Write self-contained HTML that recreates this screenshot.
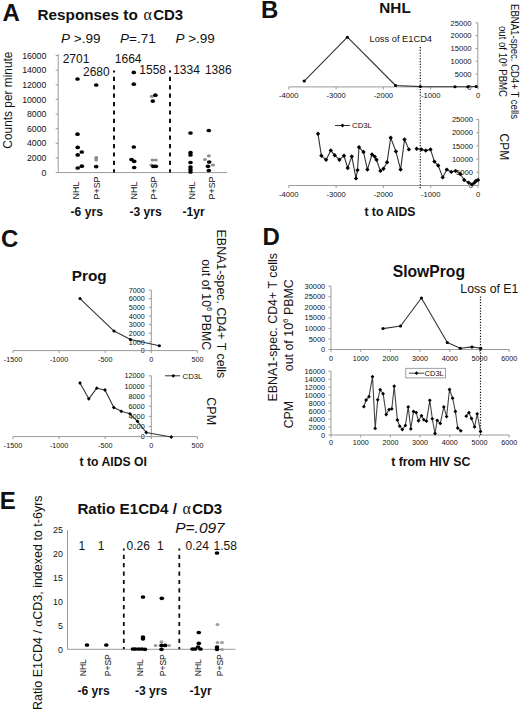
<!DOCTYPE html>
<html><head><meta charset="utf-8"><style>
html,body{margin:0;padding:0;background:#fff;}
body{width:520px;height:711px;overflow:hidden;}
svg{display:block;font-family:"Liberation Sans", sans-serif;}
</style></head><body>
<svg width="520" height="711" viewBox="0 0 520 711" fill="#111">
<rect width="520" height="711" fill="#fff"/>
<text x="2.40" y="20.60" font-size="24" font-weight="bold">A</text>
<text x="37.50" y="20.40" font-size="15.3" font-weight="bold">Responses to </text>
<text x="143.4" y="20.4" font-size="16" font-family="Liberation Serif, serif">α</text>
<text x="153.20" y="20.40" font-size="15" font-weight="bold">CD3</text>
<text x="61" y="42.5" font-size="13.5"><tspan font-style="italic">P</tspan> &gt;.99</text>
<text x="120" y="42.5" font-size="13.5"><tspan font-style="italic">P</tspan>=.71</text>
<text x="175.4" y="42.5" font-size="13.5"><tspan font-style="italic">P</tspan> &gt;.99</text>
<line x1="58.20" y1="54.10" x2="58.20" y2="172.60" stroke="#9a9a9a" stroke-width="1"/>
<line x1="55.70" y1="172.60" x2="58.20" y2="172.60" stroke="#9a9a9a" stroke-width="1"/>
<text x="46.30" y="175.70" font-size="8.7" text-anchor="end">0</text>
<line x1="55.70" y1="157.97" x2="58.20" y2="157.97" stroke="#9a9a9a" stroke-width="1"/>
<text x="46.30" y="161.07" font-size="8.7" text-anchor="end">2000</text>
<line x1="55.70" y1="143.35" x2="58.20" y2="143.35" stroke="#9a9a9a" stroke-width="1"/>
<text x="46.30" y="146.45" font-size="8.7" text-anchor="end">4000</text>
<line x1="55.70" y1="128.72" x2="58.20" y2="128.72" stroke="#9a9a9a" stroke-width="1"/>
<text x="46.30" y="131.82" font-size="8.7" text-anchor="end">6000</text>
<line x1="55.70" y1="114.10" x2="58.20" y2="114.10" stroke="#9a9a9a" stroke-width="1"/>
<text x="46.30" y="117.20" font-size="8.7" text-anchor="end">8000</text>
<line x1="55.70" y1="99.47" x2="58.20" y2="99.47" stroke="#9a9a9a" stroke-width="1"/>
<text x="46.30" y="102.57" font-size="8.7" text-anchor="end">10000</text>
<line x1="55.70" y1="84.85" x2="58.20" y2="84.85" stroke="#9a9a9a" stroke-width="1"/>
<text x="46.30" y="87.95" font-size="8.7" text-anchor="end">12000</text>
<line x1="55.70" y1="70.22" x2="58.20" y2="70.22" stroke="#9a9a9a" stroke-width="1"/>
<text x="46.30" y="73.32" font-size="8.7" text-anchor="end">14000</text>
<line x1="55.70" y1="55.60" x2="58.20" y2="55.60" stroke="#9a9a9a" stroke-width="1"/>
<text x="46.30" y="58.70" font-size="8.7" text-anchor="end">16000</text>
<line x1="58.20" y1="172.60" x2="227.00" y2="172.60" stroke="#9a9a9a" stroke-width="1"/>
<text transform="translate(12.10,100.10) rotate(-90)" font-size="11.9" text-anchor="middle">Counts per minute</text>
<line x1="114.00" y1="70.60" x2="114.00" y2="172.60" stroke="#111" stroke-width="2" stroke-dasharray="4.2 4.2" stroke-dashoffset="2.2"/>
<line x1="170.00" y1="70.60" x2="170.00" y2="172.60" stroke="#111" stroke-width="2" stroke-dasharray="4.2 4.2" stroke-dashoffset="2.2"/>
<text x="62.70" y="62.90" font-size="12">2701</text>
<text x="83.00" y="76.30" font-size="12">2680</text>
<text x="114.80" y="62.70" font-size="12">1664</text>
<text x="139.30" y="73.50" font-size="12">1558</text>
<text x="173.20" y="73.50" font-size="12">1334</text>
<text x="204.90" y="73.50" font-size="12">1386</text>
<text transform="translate(78.50,199.40) rotate(-90)" font-size="8.9">NHL</text>
<text transform="translate(100.40,199.40) rotate(-90)" font-size="8.9">P+SP</text>
<text transform="translate(136.60,199.40) rotate(-90)" font-size="8.9">NHL</text>
<text transform="translate(156.60,199.40) rotate(-90)" font-size="8.9">P+SP</text>
<text transform="translate(194.60,199.40) rotate(-90)" font-size="8.9">NHL</text>
<text transform="translate(215.00,199.40) rotate(-90)" font-size="8.9">P+SP</text>
<text x="70.60" y="216.40" font-size="12.1" font-weight="bold">-6 yrs</text>
<text x="129.50" y="216.40" font-size="12.1" font-weight="bold">-3 yrs</text>
<text x="182.50" y="216.40" font-size="12.1" font-weight="bold">-1yr</text>
<ellipse cx="96.20" cy="157.70" rx="2.0" ry="1.6" fill="#8c8c8c"/>
<ellipse cx="96.20" cy="160.00" rx="2.0" ry="1.6" fill="#8c8c8c"/>
<ellipse cx="151.80" cy="96.30" rx="2.0" ry="1.6" fill="#8c8c8c"/>
<ellipse cx="152.50" cy="160.00" rx="2.0" ry="1.6" fill="#8c8c8c"/>
<ellipse cx="155.80" cy="160.00" rx="2.0" ry="1.6" fill="#8c8c8c"/>
<ellipse cx="151.30" cy="165.00" rx="2.0" ry="1.6" fill="#8c8c8c"/>
<ellipse cx="205.00" cy="159.50" rx="2.0" ry="1.6" fill="#8c8c8c"/>
<ellipse cx="208.80" cy="155.80" rx="2.0" ry="1.6" fill="#8c8c8c"/>
<ellipse cx="213.00" cy="165.00" rx="2.0" ry="1.6" fill="#8c8c8c"/>
<ellipse cx="77.50" cy="79.00" rx="2.3" ry="1.85" fill="#000"/>
<ellipse cx="77.50" cy="134.20" rx="2.3" ry="1.85" fill="#000"/>
<ellipse cx="77.70" cy="147.40" rx="2.3" ry="1.85" fill="#000"/>
<ellipse cx="81.80" cy="152.00" rx="2.3" ry="1.85" fill="#000"/>
<ellipse cx="77.70" cy="154.90" rx="2.3" ry="1.85" fill="#000"/>
<ellipse cx="81.80" cy="166.20" rx="2.3" ry="1.85" fill="#000"/>
<ellipse cx="77.70" cy="168.00" rx="2.3" ry="1.85" fill="#000"/>
<ellipse cx="96.20" cy="85.00" rx="2.3" ry="1.85" fill="#000"/>
<ellipse cx="96.20" cy="166.60" rx="2.3" ry="1.85" fill="#000"/>
<ellipse cx="133.80" cy="72.40" rx="2.3" ry="1.85" fill="#000"/>
<ellipse cx="133.80" cy="84.20" rx="2.3" ry="1.85" fill="#000"/>
<ellipse cx="133.80" cy="147.00" rx="2.3" ry="1.85" fill="#000"/>
<ellipse cx="131.50" cy="159.50" rx="2.3" ry="1.85" fill="#000"/>
<ellipse cx="134.20" cy="161.30" rx="2.3" ry="1.85" fill="#000"/>
<ellipse cx="134.20" cy="167.50" rx="2.3" ry="1.85" fill="#000"/>
<ellipse cx="155.40" cy="95.20" rx="2.3" ry="1.85" fill="#000"/>
<ellipse cx="152.80" cy="101.10" rx="2.3" ry="1.85" fill="#000"/>
<ellipse cx="153.30" cy="166.30" rx="2.3" ry="1.85" fill="#000"/>
<ellipse cx="155.80" cy="166.30" rx="2.3" ry="1.85" fill="#000"/>
<ellipse cx="190.50" cy="133.00" rx="2.3" ry="1.85" fill="#000"/>
<ellipse cx="190.50" cy="152.50" rx="2.3" ry="1.85" fill="#000"/>
<ellipse cx="190.50" cy="155.00" rx="2.3" ry="1.85" fill="#000"/>
<ellipse cx="190.50" cy="162.50" rx="2.3" ry="1.85" fill="#000"/>
<ellipse cx="190.50" cy="167.00" rx="2.3" ry="1.85" fill="#000"/>
<ellipse cx="190.50" cy="169.50" rx="2.3" ry="1.85" fill="#000"/>
<ellipse cx="190.50" cy="172.00" rx="2.3" ry="1.85" fill="#000"/>
<ellipse cx="208.80" cy="130.50" rx="2.3" ry="1.85" fill="#000"/>
<ellipse cx="209.20" cy="162.00" rx="2.3" ry="1.85" fill="#000"/>
<ellipse cx="208.00" cy="166.30" rx="2.3" ry="1.85" fill="#000"/>
<ellipse cx="208.80" cy="170.50" rx="2.3" ry="1.85" fill="#000"/>
<text x="261.00" y="18.30" font-size="24" font-weight="bold">B</text>
<text x="379.30" y="12.80" font-size="15.3" font-weight="bold">NHL</text>
<line x1="477.80" y1="22.80" x2="477.80" y2="86.90" stroke="#9a9a9a" stroke-width="1"/>
<line x1="475.50" y1="86.90" x2="478.00" y2="86.90" stroke="#9a9a9a" stroke-width="1"/>
<text x="471.60" y="89.60" font-size="7.6" text-anchor="end">0</text>
<line x1="475.50" y1="74.08" x2="478.00" y2="74.08" stroke="#9a9a9a" stroke-width="1"/>
<text x="471.60" y="76.78" font-size="7.6" text-anchor="end">5000</text>
<line x1="475.50" y1="61.26" x2="478.00" y2="61.26" stroke="#9a9a9a" stroke-width="1"/>
<text x="471.60" y="63.96" font-size="7.6" text-anchor="end">10000</text>
<line x1="475.50" y1="48.44" x2="478.00" y2="48.44" stroke="#9a9a9a" stroke-width="1"/>
<text x="471.60" y="51.14" font-size="7.6" text-anchor="end">15000</text>
<line x1="475.50" y1="35.62" x2="478.00" y2="35.62" stroke="#9a9a9a" stroke-width="1"/>
<text x="471.60" y="38.32" font-size="7.6" text-anchor="end">20000</text>
<line x1="475.50" y1="22.80" x2="478.00" y2="22.80" stroke="#9a9a9a" stroke-width="1"/>
<text x="471.60" y="25.50" font-size="7.6" text-anchor="end">25000</text>
<line x1="288.80" y1="86.90" x2="478.00" y2="86.90" stroke="#9a9a9a" stroke-width="1"/>
<line x1="288.80" y1="86.90" x2="288.80" y2="89.40" stroke="#9a9a9a" stroke-width="1"/>
<text x="288.80" y="98.10" font-size="7.6" text-anchor="middle">-4000</text>
<line x1="336.10" y1="86.90" x2="336.10" y2="89.40" stroke="#9a9a9a" stroke-width="1"/>
<text x="336.10" y="98.10" font-size="7.6" text-anchor="middle">-3000</text>
<line x1="383.40" y1="86.90" x2="383.40" y2="89.40" stroke="#9a9a9a" stroke-width="1"/>
<text x="383.40" y="98.10" font-size="7.6" text-anchor="middle">-2000</text>
<line x1="430.70" y1="86.90" x2="430.70" y2="89.40" stroke="#9a9a9a" stroke-width="1"/>
<text x="430.70" y="98.10" font-size="7.6" text-anchor="middle">-1000</text>
<line x1="478.00" y1="86.90" x2="478.00" y2="89.40" stroke="#9a9a9a" stroke-width="1"/>
<text x="478.00" y="98.10" font-size="7.6" text-anchor="middle">0</text>
<line x1="478.70" y1="119.50" x2="478.70" y2="185.50" stroke="#9a9a9a" stroke-width="1"/>
<line x1="476.20" y1="185.50" x2="478.70" y2="185.50" stroke="#9a9a9a" stroke-width="1"/>
<text x="473.00" y="188.20" font-size="7.6" text-anchor="end">0</text>
<line x1="476.20" y1="172.30" x2="478.70" y2="172.30" stroke="#9a9a9a" stroke-width="1"/>
<text x="473.00" y="175.00" font-size="7.6" text-anchor="end">5000</text>
<line x1="476.20" y1="159.10" x2="478.70" y2="159.10" stroke="#9a9a9a" stroke-width="1"/>
<text x="473.00" y="161.80" font-size="7.6" text-anchor="end">10000</text>
<line x1="476.20" y1="145.90" x2="478.70" y2="145.90" stroke="#9a9a9a" stroke-width="1"/>
<text x="473.00" y="148.60" font-size="7.6" text-anchor="end">15000</text>
<line x1="476.20" y1="132.70" x2="478.70" y2="132.70" stroke="#9a9a9a" stroke-width="1"/>
<text x="473.00" y="135.40" font-size="7.6" text-anchor="end">20000</text>
<line x1="476.20" y1="119.50" x2="478.70" y2="119.50" stroke="#9a9a9a" stroke-width="1"/>
<text x="473.00" y="122.20" font-size="7.6" text-anchor="end">25000</text>
<line x1="288.80" y1="185.50" x2="478.70" y2="185.50" stroke="#9a9a9a" stroke-width="1"/>
<line x1="288.80" y1="185.50" x2="288.80" y2="188.00" stroke="#9a9a9a" stroke-width="1"/>
<text x="288.80" y="196.70" font-size="7.6" text-anchor="middle">-4000</text>
<line x1="336.10" y1="185.50" x2="336.10" y2="188.00" stroke="#9a9a9a" stroke-width="1"/>
<text x="336.10" y="196.70" font-size="7.6" text-anchor="middle">-3000</text>
<line x1="383.40" y1="185.50" x2="383.40" y2="188.00" stroke="#9a9a9a" stroke-width="1"/>
<text x="383.40" y="196.70" font-size="7.6" text-anchor="middle">-2000</text>
<line x1="430.70" y1="185.50" x2="430.70" y2="188.00" stroke="#9a9a9a" stroke-width="1"/>
<text x="430.70" y="196.70" font-size="7.6" text-anchor="middle">-1000</text>
<line x1="478.00" y1="185.50" x2="478.00" y2="188.00" stroke="#9a9a9a" stroke-width="1"/>
<text x="478.00" y="196.70" font-size="7.6" text-anchor="middle">0</text>
<line x1="420.30" y1="47.00" x2="420.30" y2="188.50" stroke="#111" stroke-width="1.2" stroke-dasharray="1.2 1.6"/>
<text x="369.50" y="42.20" font-size="9.3">Loss of E1CD4</text>
<polyline points="304.20,81.10 347.40,37.20 395.60,85.50 420.40,86.60 455.00,86.70 467.90,86.70 476.20,86.50" fill="none" stroke="#333" stroke-width="1.1" stroke-linejoin="round"/>
<ellipse cx="304.20" cy="81.10" rx="1.6" ry="1.5" fill="#000"/>
<ellipse cx="347.40" cy="37.20" rx="1.6" ry="1.5" fill="#000"/>
<ellipse cx="395.60" cy="85.50" rx="1.6" ry="1.5" fill="#000"/>
<ellipse cx="420.40" cy="86.60" rx="1.6" ry="1.5" fill="#000"/>
<ellipse cx="455.00" cy="86.70" rx="1.6" ry="1.5" fill="#000"/>
<ellipse cx="467.90" cy="86.70" rx="1.6" ry="1.5" fill="#000"/>
<ellipse cx="476.20" cy="86.50" rx="1.6" ry="1.5" fill="#000"/>
<polyline points="318.00,133.80 321.40,155.80 326.10,159.70 330.80,150.40 334.70,155.30 339.40,159.70 344.00,155.80 347.70,168.00 351.80,156.40 356.00,178.40 357.50,170.10 359.00,147.30 363.50,152.00 367.40,169.60 372.00,154.50 374.70,156.60 376.50,159.70 380.40,170.90 383.50,168.80 387.10,162.30 390.70,137.70 395.90,151.40 400.60,169.60 404.50,139.50 408.90,149.40" fill="none" stroke="#333" stroke-width="1.1" stroke-linejoin="round"/>
<polyline points="416.70,148.80 421.40,149.40 425.80,150.60 430.50,149.40 434.40,161.60 438.20,165.50 442.70,177.40 446.80,169.60 451.20,171.90 455.60,170.90 460.30,174.00 464.20,180.00 468.60,182.60 472.00,184.40 474.60,182.60 475.90,181.00 478.00,180.00" fill="none" stroke="#333" stroke-width="1.1" stroke-linejoin="round"/>
<path d="M318.00 131.60L320.20 133.80L318.00 136.00L315.80 133.80Z" fill="#000"/>
<path d="M321.40 153.60L323.60 155.80L321.40 158.00L319.20 155.80Z" fill="#000"/>
<path d="M326.10 157.50L328.30 159.70L326.10 161.90L323.90 159.70Z" fill="#000"/>
<path d="M330.80 148.20L333.00 150.40L330.80 152.60L328.60 150.40Z" fill="#000"/>
<path d="M334.70 153.10L336.90 155.30L334.70 157.50L332.50 155.30Z" fill="#000"/>
<path d="M339.40 157.50L341.60 159.70L339.40 161.90L337.20 159.70Z" fill="#000"/>
<path d="M344.00 153.60L346.20 155.80L344.00 158.00L341.80 155.80Z" fill="#000"/>
<path d="M347.70 165.80L349.90 168.00L347.70 170.20L345.50 168.00Z" fill="#000"/>
<path d="M351.80 154.20L354.00 156.40L351.80 158.60L349.60 156.40Z" fill="#000"/>
<path d="M356.00 176.20L358.20 178.40L356.00 180.60L353.80 178.40Z" fill="#000"/>
<path d="M357.50 167.90L359.70 170.10L357.50 172.30L355.30 170.10Z" fill="#000"/>
<path d="M359.00 145.10L361.20 147.30L359.00 149.50L356.80 147.30Z" fill="#000"/>
<path d="M363.50 149.80L365.70 152.00L363.50 154.20L361.30 152.00Z" fill="#000"/>
<path d="M367.40 167.40L369.60 169.60L367.40 171.80L365.20 169.60Z" fill="#000"/>
<path d="M372.00 152.30L374.20 154.50L372.00 156.70L369.80 154.50Z" fill="#000"/>
<path d="M374.70 154.40L376.90 156.60L374.70 158.80L372.50 156.60Z" fill="#000"/>
<path d="M376.50 157.50L378.70 159.70L376.50 161.90L374.30 159.70Z" fill="#000"/>
<path d="M380.40 168.70L382.60 170.90L380.40 173.10L378.20 170.90Z" fill="#000"/>
<path d="M383.50 166.60L385.70 168.80L383.50 171.00L381.30 168.80Z" fill="#000"/>
<path d="M387.10 160.10L389.30 162.30L387.10 164.50L384.90 162.30Z" fill="#000"/>
<path d="M390.70 135.50L392.90 137.70L390.70 139.90L388.50 137.70Z" fill="#000"/>
<path d="M395.90 149.20L398.10 151.40L395.90 153.60L393.70 151.40Z" fill="#000"/>
<path d="M400.60 167.40L402.80 169.60L400.60 171.80L398.40 169.60Z" fill="#000"/>
<path d="M404.50 137.30L406.70 139.50L404.50 141.70L402.30 139.50Z" fill="#000"/>
<path d="M408.90 147.20L411.10 149.40L408.90 151.60L406.70 149.40Z" fill="#000"/>
<path d="M416.70 146.60L418.90 148.80L416.70 151.00L414.50 148.80Z" fill="#000"/>
<path d="M421.40 147.20L423.60 149.40L421.40 151.60L419.20 149.40Z" fill="#000"/>
<path d="M425.80 148.40L428.00 150.60L425.80 152.80L423.60 150.60Z" fill="#000"/>
<path d="M430.50 147.20L432.70 149.40L430.50 151.60L428.30 149.40Z" fill="#000"/>
<path d="M434.40 159.40L436.60 161.60L434.40 163.80L432.20 161.60Z" fill="#000"/>
<path d="M438.20 163.30L440.40 165.50L438.20 167.70L436.00 165.50Z" fill="#000"/>
<path d="M442.70 175.20L444.90 177.40L442.70 179.60L440.50 177.40Z" fill="#000"/>
<path d="M446.80 167.40L449.00 169.60L446.80 171.80L444.60 169.60Z" fill="#000"/>
<path d="M451.20 169.70L453.40 171.90L451.20 174.10L449.00 171.90Z" fill="#000"/>
<path d="M455.60 168.70L457.80 170.90L455.60 173.10L453.40 170.90Z" fill="#000"/>
<path d="M460.30 171.80L462.50 174.00L460.30 176.20L458.10 174.00Z" fill="#000"/>
<path d="M464.20 177.80L466.40 180.00L464.20 182.20L462.00 180.00Z" fill="#000"/>
<path d="M468.60 180.40L470.80 182.60L468.60 184.80L466.40 182.60Z" fill="#000"/>
<path d="M472.00 182.20L474.20 184.40L472.00 186.60L469.80 184.40Z" fill="#000"/>
<path d="M474.60 180.40L476.80 182.60L474.60 184.80L472.40 182.60Z" fill="#000"/>
<path d="M475.90 178.80L478.10 181.00L475.90 183.20L473.70 181.00Z" fill="#000"/>
<path d="M478.00 177.80L480.20 180.00L478.00 182.20L475.80 180.00Z" fill="#000"/>
<line x1="335.00" y1="125.50" x2="350.00" y2="125.50" stroke="#333" stroke-width="1"/>
<path d="M342.50 123.60L344.40 125.50L342.50 127.40L340.60 125.50Z" fill="#000"/>
<text x="352.00" y="128.30" font-size="7.8">CD3L</text>
<text transform="translate(510.60,4.00) rotate(90) scale(1.0,1.05)" font-size="9.6">EBNA1-spec. CD4+ T cells</text>
<text transform="translate(498.7,26) rotate(90) scale(1,1.05)" font-size="9.6">out of 10<tspan font-size="6" dy="-3.5">6</tspan><tspan dy="3.5"> PBMC</tspan></text>
<text transform="translate(500.20,133.60) rotate(90) scale(1.0,1.1)" font-size="12">CPM</text>
<text x="364.40" y="215.80" font-size="12.2" font-weight="bold">t to AIDS</text>
<text x="1.00" y="247.30" font-size="24" font-weight="bold">C</text>
<text x="71.80" y="281.20" font-size="15.3" font-weight="bold">Prog</text>
<line x1="151.30" y1="290.00" x2="151.30" y2="350.60" stroke="#9a9a9a" stroke-width="1"/>
<line x1="148.80" y1="350.60" x2="151.30" y2="350.60" stroke="#9a9a9a" stroke-width="1"/>
<text x="144.70" y="353.20" font-size="7.2" text-anchor="end">0</text>
<line x1="148.80" y1="341.94" x2="151.30" y2="341.94" stroke="#9a9a9a" stroke-width="1"/>
<text x="144.70" y="344.54" font-size="7.2" text-anchor="end">1000</text>
<line x1="148.80" y1="333.29" x2="151.30" y2="333.29" stroke="#9a9a9a" stroke-width="1"/>
<text x="144.70" y="335.89" font-size="7.2" text-anchor="end">2000</text>
<line x1="148.80" y1="324.63" x2="151.30" y2="324.63" stroke="#9a9a9a" stroke-width="1"/>
<text x="144.70" y="327.23" font-size="7.2" text-anchor="end">3000</text>
<line x1="148.80" y1="315.97" x2="151.30" y2="315.97" stroke="#9a9a9a" stroke-width="1"/>
<text x="144.70" y="318.57" font-size="7.2" text-anchor="end">4000</text>
<line x1="148.80" y1="307.31" x2="151.30" y2="307.31" stroke="#9a9a9a" stroke-width="1"/>
<text x="144.70" y="309.91" font-size="7.2" text-anchor="end">5000</text>
<line x1="148.80" y1="298.66" x2="151.30" y2="298.66" stroke="#9a9a9a" stroke-width="1"/>
<text x="144.70" y="301.26" font-size="7.2" text-anchor="end">6000</text>
<line x1="148.80" y1="290.00" x2="151.30" y2="290.00" stroke="#9a9a9a" stroke-width="1"/>
<text x="144.70" y="292.60" font-size="7.2" text-anchor="end">7000</text>
<line x1="13.00" y1="350.60" x2="197.40" y2="350.60" stroke="#9a9a9a" stroke-width="1"/>
<line x1="13.00" y1="350.60" x2="13.00" y2="353.10" stroke="#9a9a9a" stroke-width="1"/>
<text x="13.00" y="361.90" font-size="7.2" text-anchor="middle">-1500</text>
<line x1="59.10" y1="350.60" x2="59.10" y2="353.10" stroke="#9a9a9a" stroke-width="1"/>
<text x="59.10" y="361.90" font-size="7.2" text-anchor="middle">-1000</text>
<line x1="105.20" y1="350.60" x2="105.20" y2="353.10" stroke="#9a9a9a" stroke-width="1"/>
<text x="105.20" y="361.90" font-size="7.2" text-anchor="middle">-500</text>
<line x1="151.30" y1="350.60" x2="151.30" y2="353.10" stroke="#9a9a9a" stroke-width="1"/>
<text x="151.30" y="361.90" font-size="7.2" text-anchor="middle">0</text>
<line x1="197.40" y1="350.60" x2="197.40" y2="353.10" stroke="#9a9a9a" stroke-width="1"/>
<text x="197.40" y="361.90" font-size="7.2" text-anchor="middle">500</text>
<line x1="151.30" y1="375.80" x2="151.30" y2="436.60" stroke="#9a9a9a" stroke-width="1"/>
<line x1="148.80" y1="436.60" x2="151.30" y2="436.60" stroke="#9a9a9a" stroke-width="1"/>
<text x="144.70" y="439.20" font-size="7.3" text-anchor="end">0</text>
<line x1="148.80" y1="426.47" x2="151.30" y2="426.47" stroke="#9a9a9a" stroke-width="1"/>
<text x="144.70" y="429.07" font-size="7.3" text-anchor="end">2000</text>
<line x1="148.80" y1="416.33" x2="151.30" y2="416.33" stroke="#9a9a9a" stroke-width="1"/>
<text x="144.70" y="418.93" font-size="7.3" text-anchor="end">4000</text>
<line x1="148.80" y1="406.20" x2="151.30" y2="406.20" stroke="#9a9a9a" stroke-width="1"/>
<text x="144.70" y="408.80" font-size="7.3" text-anchor="end">6000</text>
<line x1="148.80" y1="396.07" x2="151.30" y2="396.07" stroke="#9a9a9a" stroke-width="1"/>
<text x="144.70" y="398.67" font-size="7.3" text-anchor="end">8000</text>
<line x1="148.80" y1="385.93" x2="151.30" y2="385.93" stroke="#9a9a9a" stroke-width="1"/>
<text x="144.70" y="388.53" font-size="7.3" text-anchor="end">10000</text>
<line x1="148.80" y1="375.80" x2="151.30" y2="375.80" stroke="#9a9a9a" stroke-width="1"/>
<text x="144.70" y="378.40" font-size="7.3" text-anchor="end">12000</text>
<line x1="13.00" y1="436.60" x2="197.40" y2="436.60" stroke="#9a9a9a" stroke-width="1"/>
<line x1="13.00" y1="436.60" x2="13.00" y2="439.10" stroke="#9a9a9a" stroke-width="1"/>
<text x="13.00" y="447.90" font-size="7.2" text-anchor="middle">-1500</text>
<line x1="59.10" y1="436.60" x2="59.10" y2="439.10" stroke="#9a9a9a" stroke-width="1"/>
<text x="59.10" y="447.90" font-size="7.2" text-anchor="middle">-1000</text>
<line x1="105.20" y1="436.60" x2="105.20" y2="439.10" stroke="#9a9a9a" stroke-width="1"/>
<text x="105.20" y="447.90" font-size="7.2" text-anchor="middle">-500</text>
<line x1="151.30" y1="436.60" x2="151.30" y2="439.10" stroke="#9a9a9a" stroke-width="1"/>
<text x="151.30" y="447.90" font-size="7.2" text-anchor="middle">0</text>
<line x1="197.40" y1="436.60" x2="197.40" y2="439.10" stroke="#9a9a9a" stroke-width="1"/>
<text x="197.40" y="447.90" font-size="7.2" text-anchor="middle">500</text>
<polyline points="80.00,298.60 114.00,331.10 130.50,339.50 159.30,345.80" fill="none" stroke="#333" stroke-width="1.1" stroke-linejoin="round"/>
<ellipse cx="80.00" cy="298.60" rx="1.6" ry="1.5" fill="#000"/>
<ellipse cx="114.00" cy="331.10" rx="1.6" ry="1.5" fill="#000"/>
<ellipse cx="130.50" cy="339.50" rx="1.6" ry="1.5" fill="#000"/>
<ellipse cx="159.30" cy="345.80" rx="1.6" ry="1.5" fill="#000"/>
<polyline points="80.00,383.00 88.80,398.80 96.80,388.20 105.00,390.00 113.80,407.50 121.30,411.30 130.00,413.80 137.50,421.30 146.30,432.50 171.30,437.00" fill="none" stroke="#333" stroke-width="1.1" stroke-linejoin="round"/>
<path d="M80.00 381.10L81.90 383.00L80.00 384.90L78.10 383.00Z" fill="#000"/>
<path d="M88.80 396.90L90.70 398.80L88.80 400.70L86.90 398.80Z" fill="#000"/>
<path d="M96.80 386.30L98.70 388.20L96.80 390.10L94.90 388.20Z" fill="#000"/>
<path d="M105.00 388.10L106.90 390.00L105.00 391.90L103.10 390.00Z" fill="#000"/>
<path d="M113.80 405.60L115.70 407.50L113.80 409.40L111.90 407.50Z" fill="#000"/>
<path d="M121.30 409.40L123.20 411.30L121.30 413.20L119.40 411.30Z" fill="#000"/>
<path d="M130.00 411.90L131.90 413.80L130.00 415.70L128.10 413.80Z" fill="#000"/>
<path d="M137.50 419.40L139.40 421.30L137.50 423.20L135.60 421.30Z" fill="#000"/>
<path d="M146.30 430.60L148.20 432.50L146.30 434.40L144.40 432.50Z" fill="#000"/>
<path d="M171.30 435.10L173.20 437.00L171.30 438.90L169.40 437.00Z" fill="#000"/>
<line x1="165.00" y1="375.80" x2="180.00" y2="375.80" stroke="#333" stroke-width="1"/>
<path d="M173.30 373.90L175.20 375.80L173.30 377.70L171.40 375.80Z" fill="#000"/>
<text x="182.50" y="378.60" font-size="7.8">CD3L</text>
<text transform="translate(217.40,229.60) rotate(90) scale(1.0,1.05)" font-size="12.4">EBNA1-spec. CD4+ T cells</text>
<text transform="translate(202.1,259.2) rotate(90) scale(1,1.02)" font-size="12.3">out of 10<tspan font-size="7.5" dy="-4.5">6</tspan><tspan dy="4.5"> PBMC</tspan></text>
<text transform="translate(207.40,397.30) rotate(90) scale(1.0,1.06)" font-size="12.5">CPM</text>
<text x="79.60" y="466.20" font-size="12.2" font-weight="bold">t to AIDS OI</text>
<text x="262.50" y="244.50" font-size="24" font-weight="bold">D</text>
<text x="392.70" y="277.30" font-size="15.7" font-weight="bold">SlowProg</text>
<line x1="331.00" y1="286.20" x2="331.00" y2="349.50" stroke="#9a9a9a" stroke-width="1"/>
<line x1="328.50" y1="349.50" x2="331.00" y2="349.50" stroke="#9a9a9a" stroke-width="1"/>
<text x="325.20" y="352.10" font-size="7.45" text-anchor="end">0</text>
<line x1="328.50" y1="338.95" x2="331.00" y2="338.95" stroke="#9a9a9a" stroke-width="1"/>
<text x="325.20" y="341.55" font-size="7.45" text-anchor="end">5000</text>
<line x1="328.50" y1="328.40" x2="331.00" y2="328.40" stroke="#9a9a9a" stroke-width="1"/>
<text x="325.20" y="331.00" font-size="7.45" text-anchor="end">10000</text>
<line x1="328.50" y1="317.85" x2="331.00" y2="317.85" stroke="#9a9a9a" stroke-width="1"/>
<text x="325.20" y="320.45" font-size="7.45" text-anchor="end">15000</text>
<line x1="328.50" y1="307.30" x2="331.00" y2="307.30" stroke="#9a9a9a" stroke-width="1"/>
<text x="325.20" y="309.90" font-size="7.45" text-anchor="end">20000</text>
<line x1="328.50" y1="296.75" x2="331.00" y2="296.75" stroke="#9a9a9a" stroke-width="1"/>
<text x="325.20" y="299.35" font-size="7.45" text-anchor="end">25000</text>
<line x1="328.50" y1="286.20" x2="331.00" y2="286.20" stroke="#9a9a9a" stroke-width="1"/>
<text x="325.20" y="288.80" font-size="7.45" text-anchor="end">30000</text>
<line x1="331.00" y1="349.50" x2="509.20" y2="349.50" stroke="#9a9a9a" stroke-width="1"/>
<line x1="331.00" y1="349.50" x2="331.00" y2="352.00" stroke="#9a9a9a" stroke-width="1"/>
<text x="331.00" y="360.60" font-size="7.2" text-anchor="middle">0</text>
<line x1="360.70" y1="349.50" x2="360.70" y2="352.00" stroke="#9a9a9a" stroke-width="1"/>
<text x="360.70" y="360.60" font-size="7.2" text-anchor="middle">1000</text>
<line x1="390.40" y1="349.50" x2="390.40" y2="352.00" stroke="#9a9a9a" stroke-width="1"/>
<text x="390.40" y="360.60" font-size="7.2" text-anchor="middle">2000</text>
<line x1="420.10" y1="349.50" x2="420.10" y2="352.00" stroke="#9a9a9a" stroke-width="1"/>
<text x="420.10" y="360.60" font-size="7.2" text-anchor="middle">3000</text>
<line x1="449.80" y1="349.50" x2="449.80" y2="352.00" stroke="#9a9a9a" stroke-width="1"/>
<text x="449.80" y="360.60" font-size="7.2" text-anchor="middle">4000</text>
<line x1="479.50" y1="349.50" x2="479.50" y2="352.00" stroke="#9a9a9a" stroke-width="1"/>
<text x="479.50" y="360.60" font-size="7.2" text-anchor="middle">5000</text>
<line x1="509.20" y1="349.50" x2="509.20" y2="352.00" stroke="#9a9a9a" stroke-width="1"/>
<text x="509.20" y="360.60" font-size="7.2" text-anchor="middle">6000</text>
<line x1="331.00" y1="371.20" x2="331.00" y2="435.00" stroke="#9a9a9a" stroke-width="1"/>
<line x1="328.50" y1="435.00" x2="331.00" y2="435.00" stroke="#9a9a9a" stroke-width="1"/>
<text x="325.00" y="437.60" font-size="7.4" text-anchor="end">0</text>
<line x1="328.50" y1="427.02" x2="331.00" y2="427.02" stroke="#9a9a9a" stroke-width="1"/>
<text x="325.00" y="429.62" font-size="7.4" text-anchor="end">2000</text>
<line x1="328.50" y1="419.05" x2="331.00" y2="419.05" stroke="#9a9a9a" stroke-width="1"/>
<text x="325.00" y="421.65" font-size="7.4" text-anchor="end">4000</text>
<line x1="328.50" y1="411.07" x2="331.00" y2="411.07" stroke="#9a9a9a" stroke-width="1"/>
<text x="325.00" y="413.68" font-size="7.4" text-anchor="end">6000</text>
<line x1="328.50" y1="403.10" x2="331.00" y2="403.10" stroke="#9a9a9a" stroke-width="1"/>
<text x="325.00" y="405.70" font-size="7.4" text-anchor="end">8000</text>
<line x1="328.50" y1="395.12" x2="331.00" y2="395.12" stroke="#9a9a9a" stroke-width="1"/>
<text x="325.00" y="397.73" font-size="7.4" text-anchor="end">10000</text>
<line x1="328.50" y1="387.15" x2="331.00" y2="387.15" stroke="#9a9a9a" stroke-width="1"/>
<text x="325.00" y="389.75" font-size="7.4" text-anchor="end">12000</text>
<line x1="328.50" y1="379.18" x2="331.00" y2="379.18" stroke="#9a9a9a" stroke-width="1"/>
<text x="325.00" y="381.78" font-size="7.4" text-anchor="end">14000</text>
<line x1="328.50" y1="371.20" x2="331.00" y2="371.20" stroke="#9a9a9a" stroke-width="1"/>
<text x="325.00" y="373.80" font-size="7.4" text-anchor="end">16000</text>
<line x1="331.00" y1="435.00" x2="509.20" y2="435.00" stroke="#9a9a9a" stroke-width="1"/>
<line x1="331.00" y1="435.00" x2="331.00" y2="437.50" stroke="#9a9a9a" stroke-width="1"/>
<text x="331.00" y="445.40" font-size="7.2" text-anchor="middle">0</text>
<line x1="360.70" y1="435.00" x2="360.70" y2="437.50" stroke="#9a9a9a" stroke-width="1"/>
<text x="360.70" y="445.40" font-size="7.2" text-anchor="middle">1000</text>
<line x1="390.40" y1="435.00" x2="390.40" y2="437.50" stroke="#9a9a9a" stroke-width="1"/>
<text x="390.40" y="445.40" font-size="7.2" text-anchor="middle">2000</text>
<line x1="420.10" y1="435.00" x2="420.10" y2="437.50" stroke="#9a9a9a" stroke-width="1"/>
<text x="420.10" y="445.40" font-size="7.2" text-anchor="middle">3000</text>
<line x1="449.80" y1="435.00" x2="449.80" y2="437.50" stroke="#9a9a9a" stroke-width="1"/>
<text x="449.80" y="445.40" font-size="7.2" text-anchor="middle">4000</text>
<line x1="479.50" y1="435.00" x2="479.50" y2="437.50" stroke="#9a9a9a" stroke-width="1"/>
<text x="479.50" y="445.40" font-size="7.2" text-anchor="middle">5000</text>
<line x1="509.20" y1="435.00" x2="509.20" y2="437.50" stroke="#9a9a9a" stroke-width="1"/>
<text x="509.20" y="445.40" font-size="7.2" text-anchor="middle">6000</text>
<line x1="480.50" y1="296.50" x2="480.50" y2="436.00" stroke="#111" stroke-width="1.2" stroke-dasharray="1.2 1.6"/>
<text x="460.30" y="293.10" font-size="12.3">Loss of E1</text>
<polyline points="383.00,328.60 400.60,326.00 421.40,298.00 447.30,342.50 460.30,348.20 472.00,346.90 480.60,348.20" fill="none" stroke="#333" stroke-width="1.1" stroke-linejoin="round"/>
<ellipse cx="383.00" cy="328.60" rx="1.6" ry="1.5" fill="#000"/>
<ellipse cx="400.60" cy="326.00" rx="1.6" ry="1.5" fill="#000"/>
<ellipse cx="421.40" cy="298.00" rx="1.6" ry="1.5" fill="#000"/>
<ellipse cx="447.30" cy="342.50" rx="1.6" ry="1.5" fill="#000"/>
<ellipse cx="460.30" cy="348.20" rx="1.6" ry="1.5" fill="#000"/>
<ellipse cx="472.00" cy="346.90" rx="1.6" ry="1.5" fill="#000"/>
<ellipse cx="480.60" cy="348.20" rx="1.6" ry="1.5" fill="#000"/>
<polyline points="363.80,406.70 366.10,400.00 369.00,396.70 372.50,376.70 375.20,428.40 377.70,399.80 380.20,389.70 383.10,393.70 386.20,414.50 389.10,409.60 391.80,408.90 394.20,386.20 397.40,420.00 399.70,426.20 402.30,429.50 405.40,425.40 408.20,406.90 410.80,428.90 413.50,411.50 416.20,412.60 418.50,420.80 421.50,415.70 423.80,419.70 426.50,421.20 429.80,400.30 432.30,418.80 435.00,433.50 437.20,420.30 440.30,423.40 443.80,406.90 446.60,416.60 449.50,389.50 452.60,398.20 455.40,411.50 457.70,428.00 460.80,430.80" fill="none" stroke="#444" stroke-width="1.1" stroke-linejoin="round"/>
<polyline points="466.20,416.20 468.90,412.60 471.50,418.50 474.60,426.90 477.20,413.80 480.50,431.50" fill="none" stroke="#444" stroke-width="1.1" stroke-linejoin="round"/>
<path d="M363.80 404.80L365.70 406.70L363.80 408.60L361.90 406.70Z" fill="#000"/>
<path d="M366.10 398.10L368.00 400.00L366.10 401.90L364.20 400.00Z" fill="#000"/>
<path d="M369.00 394.80L370.90 396.70L369.00 398.60L367.10 396.70Z" fill="#000"/>
<path d="M372.50 374.80L374.40 376.70L372.50 378.60L370.60 376.70Z" fill="#000"/>
<path d="M375.20 426.50L377.10 428.40L375.20 430.30L373.30 428.40Z" fill="#000"/>
<path d="M377.70 397.90L379.60 399.80L377.70 401.70L375.80 399.80Z" fill="#000"/>
<path d="M380.20 387.80L382.10 389.70L380.20 391.60L378.30 389.70Z" fill="#000"/>
<path d="M383.10 391.80L385.00 393.70L383.10 395.60L381.20 393.70Z" fill="#000"/>
<path d="M386.20 412.60L388.10 414.50L386.20 416.40L384.30 414.50Z" fill="#000"/>
<path d="M389.10 407.70L391.00 409.60L389.10 411.50L387.20 409.60Z" fill="#000"/>
<path d="M391.80 407.00L393.70 408.90L391.80 410.80L389.90 408.90Z" fill="#000"/>
<path d="M394.20 384.30L396.10 386.20L394.20 388.10L392.30 386.20Z" fill="#000"/>
<path d="M397.40 418.10L399.30 420.00L397.40 421.90L395.50 420.00Z" fill="#000"/>
<path d="M399.70 424.30L401.60 426.20L399.70 428.10L397.80 426.20Z" fill="#000"/>
<path d="M402.30 427.60L404.20 429.50L402.30 431.40L400.40 429.50Z" fill="#000"/>
<path d="M405.40 423.50L407.30 425.40L405.40 427.30L403.50 425.40Z" fill="#000"/>
<path d="M408.20 405.00L410.10 406.90L408.20 408.80L406.30 406.90Z" fill="#000"/>
<path d="M410.80 427.00L412.70 428.90L410.80 430.80L408.90 428.90Z" fill="#000"/>
<path d="M413.50 409.60L415.40 411.50L413.50 413.40L411.60 411.50Z" fill="#000"/>
<path d="M416.20 410.70L418.10 412.60L416.20 414.50L414.30 412.60Z" fill="#000"/>
<path d="M418.50 418.90L420.40 420.80L418.50 422.70L416.60 420.80Z" fill="#000"/>
<path d="M421.50 413.80L423.40 415.70L421.50 417.60L419.60 415.70Z" fill="#000"/>
<path d="M423.80 417.80L425.70 419.70L423.80 421.60L421.90 419.70Z" fill="#000"/>
<path d="M426.50 419.30L428.40 421.20L426.50 423.10L424.60 421.20Z" fill="#000"/>
<path d="M429.80 398.40L431.70 400.30L429.80 402.20L427.90 400.30Z" fill="#000"/>
<path d="M432.30 416.90L434.20 418.80L432.30 420.70L430.40 418.80Z" fill="#000"/>
<path d="M435.00 431.60L436.90 433.50L435.00 435.40L433.10 433.50Z" fill="#000"/>
<path d="M437.20 418.40L439.10 420.30L437.20 422.20L435.30 420.30Z" fill="#000"/>
<path d="M440.30 421.50L442.20 423.40L440.30 425.30L438.40 423.40Z" fill="#000"/>
<path d="M443.80 405.00L445.70 406.90L443.80 408.80L441.90 406.90Z" fill="#000"/>
<path d="M446.60 414.70L448.50 416.60L446.60 418.50L444.70 416.60Z" fill="#000"/>
<path d="M449.50 387.60L451.40 389.50L449.50 391.40L447.60 389.50Z" fill="#000"/>
<path d="M452.60 396.30L454.50 398.20L452.60 400.10L450.70 398.20Z" fill="#000"/>
<path d="M455.40 409.60L457.30 411.50L455.40 413.40L453.50 411.50Z" fill="#000"/>
<path d="M457.70 426.10L459.60 428.00L457.70 429.90L455.80 428.00Z" fill="#000"/>
<path d="M460.80 428.90L462.70 430.80L460.80 432.70L458.90 430.80Z" fill="#000"/>
<path d="M466.20 414.30L468.10 416.20L466.20 418.10L464.30 416.20Z" fill="#000"/>
<path d="M468.90 410.70L470.80 412.60L468.90 414.50L467.00 412.60Z" fill="#000"/>
<path d="M471.50 416.60L473.40 418.50L471.50 420.40L469.60 418.50Z" fill="#000"/>
<path d="M474.60 425.00L476.50 426.90L474.60 428.80L472.70 426.90Z" fill="#000"/>
<path d="M477.20 411.90L479.10 413.80L477.20 415.70L475.30 413.80Z" fill="#000"/>
<path d="M480.50 429.60L482.40 431.50L480.50 433.40L478.60 431.50Z" fill="#000"/>
<rect x="405.8" y="368.3" width="39.6" height="9.6" fill="#fff" stroke="#888" stroke-width="0.8"/>
<line x1="408.90" y1="373.20" x2="424.00" y2="373.20" stroke="#444" stroke-width="1"/>
<path d="M416.50 371.30L418.40 373.20L416.50 375.10L414.60 373.20Z" fill="#000"/>
<text x="424.60" y="376.10" font-size="7.5">CD3L</text>
<text transform="translate(277.30,401.60) rotate(-90)" font-size="12.4">EBNA1-spec. CD4+ T cells</text>
<text transform="translate(292.6,371.2) rotate(-90)" font-size="12.4">out of 10<tspan font-size="8" dy="-4.5">6</tspan><tspan dy="4.5"> PBMC</tspan></text>
<text transform="translate(293.10,428.30) rotate(-90) scale(1.0,1.03)" font-size="12.3">CPM</text>
<text x="391.20" y="466.00" font-size="12.3" font-weight="bold">t from HIV SC</text>
<text x="-0.30" y="508.80" font-size="24" font-weight="bold">E</text>
<text x="77.40" y="513.60" font-size="15.2" font-weight="bold">Ratio E1CD4 / </text>
<text x="182.6" y="513.6" font-size="16" font-family="Liberation Serif, serif">α</text>
<text x="192.20" y="513.60" font-size="15" font-weight="bold">CD3</text>
<text x="175.20" y="533.20" font-size="15.5" font-style="italic">P=.097</text>
<line x1="67.50" y1="530.20" x2="67.50" y2="649.30" stroke="#9a9a9a" stroke-width="1"/>
<text x="62.80" y="652.50" font-size="8.8" text-anchor="end">0</text>
<text x="62.80" y="628.68" font-size="8.8" text-anchor="end">5</text>
<text x="62.80" y="604.86" font-size="8.8" text-anchor="end">10</text>
<text x="62.80" y="581.04" font-size="8.8" text-anchor="end">15</text>
<text x="62.80" y="557.22" font-size="8.8" text-anchor="end">20</text>
<text x="62.80" y="533.40" font-size="8.8" text-anchor="end">25</text>
<line x1="67.50" y1="649.30" x2="235.50" y2="649.30" stroke="#9a9a9a" stroke-width="1"/>
<text transform="translate(41.9,710) rotate(-90)" font-size="12.5">Ratio E1CD4 / <tspan font-family="Liberation Serif, serif" font-size="13">α</tspan>CD3, indexed to t-6yrs</text>
<line x1="123.80" y1="548.50" x2="123.80" y2="649.30" stroke="#111" stroke-width="1.8" stroke-dasharray="4.2 4.2" stroke-dashoffset="2.2"/>
<line x1="179.30" y1="548.50" x2="179.30" y2="649.30" stroke="#111" stroke-width="1.8" stroke-dasharray="4.2 4.2" stroke-dashoffset="2.2"/>
<text x="78.50" y="549.90" font-size="12">1</text>
<text x="97.70" y="549.90" font-size="12">1</text>
<text x="126.50" y="549.90" font-size="12">0.26</text>
<text x="156.90" y="549.90" font-size="12">1</text>
<text x="185.50" y="549.90" font-size="12">0.24</text>
<text x="213.50" y="549.90" font-size="12">1.58</text>
<text transform="translate(86.40,676.20) rotate(-90)" font-size="8.5">NHL</text>
<text transform="translate(111.30,676.20) rotate(-90)" font-size="8.5">P+SP</text>
<text transform="translate(143.30,676.20) rotate(-90)" font-size="8.5">NHL</text>
<text transform="translate(165.80,676.20) rotate(-90)" font-size="8.5">P+SP</text>
<text transform="translate(200.50,676.20) rotate(-90)" font-size="8.5">NHL</text>
<text transform="translate(223.30,676.20) rotate(-90)" font-size="8.5">P+SP</text>
<text x="77.50" y="695.40" font-size="12.1" font-weight="bold">-6 yrs</text>
<text x="135.00" y="695.40" font-size="12.1" font-weight="bold">-3 yrs</text>
<text x="189.50" y="695.40" font-size="12.1" font-weight="bold">-1yr</text>
<ellipse cx="161.50" cy="641.80" rx="1.9" ry="1.5" fill="#9a9a9a"/>
<ellipse cx="155.60" cy="645.40" rx="1.9" ry="1.5" fill="#9a9a9a"/>
<ellipse cx="169.10" cy="645.40" rx="1.9" ry="1.5" fill="#9a9a9a"/>
<ellipse cx="217.50" cy="624.50" rx="1.9" ry="1.5" fill="#9a9a9a"/>
<ellipse cx="217.50" cy="642.50" rx="1.9" ry="1.5" fill="#9a9a9a"/>
<ellipse cx="222.00" cy="642.50" rx="1.9" ry="1.5" fill="#9a9a9a"/>
<ellipse cx="222.00" cy="649.50" rx="1.9" ry="1.5" fill="#9a9a9a"/>
<ellipse cx="87.00" cy="645.00" rx="2.3" ry="1.85" fill="#000"/>
<ellipse cx="106.30" cy="645.00" rx="2.3" ry="1.85" fill="#000"/>
<ellipse cx="143.00" cy="597.00" rx="2.3" ry="1.85" fill="#000"/>
<ellipse cx="143.00" cy="637.00" rx="2.3" ry="1.85" fill="#000"/>
<ellipse cx="143.00" cy="638.80" rx="2.3" ry="1.85" fill="#000"/>
<ellipse cx="133.00" cy="649.00" rx="2.3" ry="1.85" fill="#000"/>
<ellipse cx="135.50" cy="649.00" rx="2.3" ry="1.85" fill="#000"/>
<ellipse cx="138.80" cy="649.00" rx="2.3" ry="1.85" fill="#000"/>
<ellipse cx="142.00" cy="649.00" rx="2.3" ry="1.85" fill="#000"/>
<ellipse cx="145.00" cy="649.30" rx="2.3" ry="1.85" fill="#000"/>
<ellipse cx="161.80" cy="598.30" rx="2.3" ry="1.85" fill="#000"/>
<ellipse cx="161.50" cy="645.40" rx="2.3" ry="1.85" fill="#000"/>
<ellipse cx="165.10" cy="645.40" rx="2.3" ry="1.85" fill="#000"/>
<ellipse cx="161.50" cy="649.30" rx="2.3" ry="1.85" fill="#000"/>
<ellipse cx="198.80" cy="632.50" rx="2.3" ry="1.85" fill="#000"/>
<ellipse cx="198.80" cy="643.30" rx="2.3" ry="1.85" fill="#000"/>
<ellipse cx="192.50" cy="649.00" rx="2.3" ry="1.85" fill="#000"/>
<ellipse cx="195.00" cy="649.00" rx="2.3" ry="1.85" fill="#000"/>
<ellipse cx="198.00" cy="647.00" rx="2.3" ry="1.85" fill="#000"/>
<ellipse cx="200.50" cy="649.00" rx="2.3" ry="1.85" fill="#000"/>
<ellipse cx="217.00" cy="553.00" rx="2.3" ry="1.85" fill="#000"/>
<ellipse cx="217.00" cy="647.00" rx="2.3" ry="1.85" fill="#000"/>
<ellipse cx="217.00" cy="649.30" rx="2.3" ry="1.85" fill="#000"/>
</svg>
</body></html>
